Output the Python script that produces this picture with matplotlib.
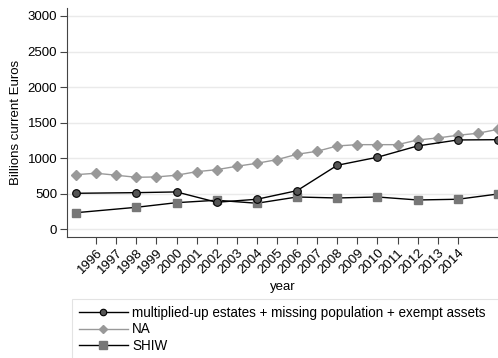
import matplotlib
matplotlib.use("Agg")
import matplotlib.pyplot as plt

plt.rcParams['font.family'] = ['Liberation Sans', 'DejaVu Sans']

years_mult = [1995, 1998, 2000, 2002, 2004, 2006, 2008, 2010, 2012, 2014, 2016]
mult = [506, 515, 525, 380, 422, 543, 900, 1013, 1172, 1256, 1260]

years_na = list(range(1995, 2017))
na = [768, 788, 760, 731, 736, 760, 810, 838, 886, 928, 979, 1055, 1097, 1172,
      1190, 1190, 1190, 1256, 1284, 1322, 1350, 1406]

years_shiw = [1995, 1998, 2000, 2002, 2004, 2006, 2008, 2010, 2012, 2014, 2016]
shiw = [233, 309, 374, 408, 366, 454, 440, 454, 412, 422, 496]

xticks = list(range(1996, 2015))
yticks = [0, 500, 1000, 1500, 2000, 2500, 3000]

FS = 9.5

fig = plt.figure(figsize=(4.98, 3.58), dpi=100)
ax = fig.add_axes([67/498, 1 - 237.3/358, (498 - 67)/498, (237.3 - 8)/358])

ax.plot(years_mult, mult, color='black', lw=1, marker='o', ms=5.5,
        mfc='#555555', mec='black', mew=0.8,
        label='multiplied-up estates + missing population + exempt assets', zorder=3)
ax.plot(years_na, na, color='#999999', lw=1, marker='D', ms=5,
        mfc='#999999', mec='#999999', label='NA', zorder=2)
ax.plot(years_shiw, shiw, color='black', lw=1, marker='s', ms=6,
        mfc='#777777', mec='#777777', label='SHIW', zorder=2)

ax.set_xlim(1994.55, 2016.0)
ax.set_ylim(-113, 3112)
ax.set_yticks(yticks)
ax.set_yticklabels([str(v) for v in yticks], fontsize=FS)
ax.set_xticks(xticks)
ax.set_xticklabels([str(v) for v in xticks], rotation=45, ha='right',
                   rotation_mode='anchor', fontsize=FS)
ax.grid(axis='y', color='#eaeaea', lw=1)
ax.set_axisbelow(True)
for s in ['top', 'right']:
    ax.spines[s].set_visible(False)
for s in ['left', 'bottom']:
    ax.spines[s].set_color('#444444')
    ax.spines[s].set_linewidth(0.8)
ax.tick_params(colors='#444444', labelcolor='black', length=5, width=0.8, pad=2)
ax.set_ylabel('Billions current Euros', fontsize=FS, labelpad=4)
ax.set_xlabel('year', fontsize=FS, labelpad=3)

leg = fig.legend(loc='upper left', bbox_to_anchor=(72/498, 0, 1.0, 1 - 299/358),
                 mode='expand', borderaxespad=0,
                 fontsize=9.75, frameon=True, fancybox=False, handlelength=3.6,
                 labelspacing=0.2, borderpad=0.5, handletextpad=0.35,
                 markerscale=0.85)
leg.get_frame().set_edgecolor('#dddddd')
leg.get_frame().set_linewidth(0.8)

fig.savefig('out.png', dpi=100)
